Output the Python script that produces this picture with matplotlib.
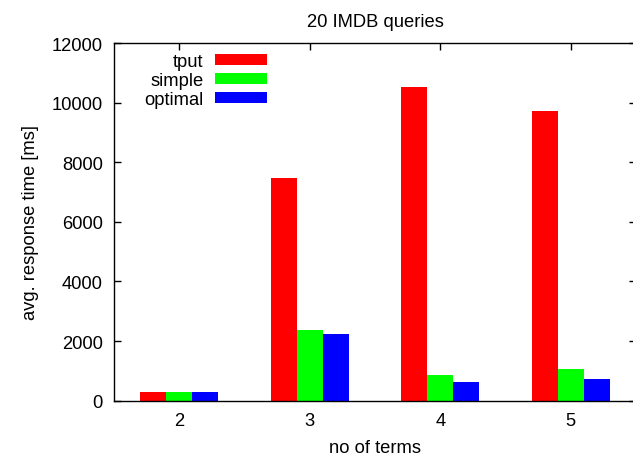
import numpy as np
import matplotlib
matplotlib.use('Agg')
import matplotlib.pyplot as plt

# values
terms = ['2', '3', '4', '5']
series = ['tput', 'simple', 'optimal']
tput = [300, 7460, 10530, 9720]
simple = [305, 2385, 862, 1064]
optimal = [300, 2235, 640, 728]
colors = ['#ff0000', '#00ff00', '#0000ff']

plt.rcParams['font.family'] = ['Liberation Sans', 'DejaVu Sans']
plt.rcParams['font.size'] = 13.2

fig = plt.figure(figsize=(6.33, 4.56), dpi=100)
ax = fig.add_axes([0.180, 0.119, 0.825, 0.7845])

x = np.arange(len(terms))
width = 0.2
for i, (name, vals) in enumerate(zip(series, [tput, simple, optimal])):
    ax.bar(x + (i - 1) * width, vals, width, color=colors[i], label=name,
           edgecolor='none', zorder=2)

ax.set_xlim(-0.5, len(terms) - 0.5)
ax.set_ylim(0, 12000)
ax.set_yticks(np.arange(0, 12001, 2000))
ax.set_xticks(x)
ax.set_xticklabels(terms)
ax.set_axisbelow(True)

ax.tick_params(direction='in', length=5, width=1, top=True, right=True, pad=8)
ax.tick_params(axis='y', pad=8)
for s in ax.spines.values():
    s.set_linewidth(1)
    s.set_zorder(3)

ax.set_title('20 IMDB queries', fontsize=13.2, pad=12)
ax.set_xlabel('no of terms', labelpad=7)
ax.set_ylabel('avg. response time [ms]', labelpad=9)

ax.legend(loc='upper right', bbox_to_anchor=(0.2925, 0.971), frameon=False,
          markerfirst=False, handlelength=2.84, handleheight=0.55,
          handletextpad=0.6, labelspacing=0.11, borderpad=0, borderaxespad=0)

fig.savefig('out.png', dpi=100)
